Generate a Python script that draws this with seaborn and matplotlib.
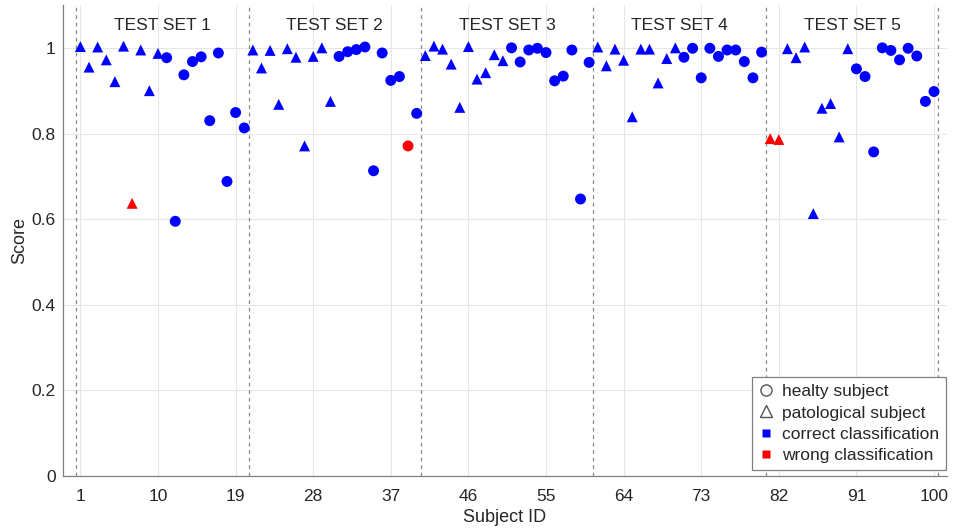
import numpy as np
import pandas as pd
import seaborn as sns
import matplotlib.pyplot as plt
from matplotlib.lines import Line2D

# subject scores
subject_ids = list(range(1, 101))
scores = [
    1.003, 0.955, 1.002, 0.972, 0.921, 1.004, 0.637, 0.995, 0.900, 0.987,
    0.977, 0.595, 0.937, 0.968, 0.979, 0.830, 0.988, 0.688, 0.849, 0.813,
    0.995, 0.953, 0.994, 0.868, 0.998, 0.978, 0.771, 0.980, 1.000, 0.875,
    0.980, 0.991, 0.996, 1.002, 0.713, 0.988, 0.924, 0.933, 0.771, 0.847,
    0.982, 1.004, 0.997, 0.962, 0.861, 1.003, 0.927, 0.942, 0.984, 0.970,
    1.000, 0.967, 0.995, 0.999, 0.989, 0.923, 0.934, 0.995, 0.647, 0.966,
    1.002, 0.958, 0.997, 0.971, 0.839, 0.997, 0.997, 0.918, 0.975, 1.000,
    0.978, 0.999, 0.930, 0.999, 0.980, 0.995, 0.995, 0.968, 0.930, 0.990,
    0.788, 0.786, 0.998, 0.977, 1.002, 0.613, 0.859, 0.870, 0.792, 0.998,
    0.951, 0.933, 0.757, 1.000, 0.994, 0.972, 0.999, 0.981, 0.875, 0.898,
]
# P = pathological, H = healthy
subject_type = list(
    "PPPPPPPPPPHHHHHHHHHH"
    "PPPPPPPPPPHHHHHHHHHH"
    "PPPPPPPPPPHHHHHHHHHH"
    "PPPPPPPPPPHHHHHHHHHH"
    "PPPPPPPPPPHHHHHHHHHH"
)
wrong_ids = [7, 39, 81, 82]
set_names = ["TEST SET 1", "TEST SET 2", "TEST SET 3", "TEST SET 4", "TEST SET 5"]
set_bounds = [0.5, 20.5, 40.5, 60.5, 80.5, 100.5]
xticks = [1, 10, 19, 28, 37, 46, 55, 64, 73, 82, 91, 100]

df = pd.DataFrame({"Subject ID": subject_ids, "Score": scores, "type": subject_type})
df["cls"] = ["wrong" if s in wrong_ids else "correct" for s in df["Subject ID"]]

sns.set_style("white")
plt.rcParams["font.family"] = ["Liberation Sans", "DejaVu Sans"]

fig = plt.figure(figsize=(9.57, 5.29), dpi=100)
ax = fig.add_axes([0.066, 0.100, 0.9235, 0.8905])

for b in set_bounds:
    ax.axvline(b, color="#888888", ls=(0, (3, 3)), lw=0.9, zorder=1)

sns.scatterplot(data=df, x="Subject ID", y="Score", hue="cls", style="type",
                palette={"correct": "#0000ff", "wrong": "#ff0000"},
                markers={"P": "^", "H": "o"}, s=62, edgecolor="none",
                legend=False, ax=ax, zorder=3)

for i, name in enumerate(set_names):
    ax.text((set_bounds[i] + set_bounds[i + 1]) / 2, 1.052, name,
            ha="center", va="center", fontsize=12.5)

ax.set_xlim(-1, 101.5)
ax.set_ylim(0, 1.1)
ax.set_xticks(xticks)
ax.set_yticks([0, 0.2, 0.4, 0.6, 0.8, 1])
ax.set_yticklabels(["0", "0.2", "0.4", "0.6", "0.8", "1"])
ax.grid(True, color="#e6e6e6", lw=0.8)
ax.set_axisbelow(True)
ax.tick_params(direction="in", length=6, color="#808080", labelsize=12.5,
               labelcolor="#262626", pad=9)
ax.tick_params(axis="y", pad=5.5)
for side in ["top", "right"]:
    ax.spines[side].set_visible(False)
for side in ["left", "bottom"]:
    ax.spines[side].set_color("#808080")
    ax.spines[side].set_linewidth(0.9)
ax.set_xlabel("Subject ID", fontsize=13, color="#262626", labelpad=4)
ax.set_ylabel("Score", fontsize=13, color="#262626", labelpad=2)

handles = [
    Line2D([], [], ls="none", marker="o", mfc="none", mec="#555555", ms=8),
    Line2D([], [], ls="none", marker="^", mfc="none", mec="#555555", ms=8),
    Line2D([], [], ls="none", marker="s", mfc="#0000ff", mec="none", ms=6),
    Line2D([], [], ls="none", marker="s", mfc="#ff0000", mec="none", ms=6),
]
labels = ["healty subject", "patological subject", "correct classification",
          "wrong classification"]
leg = ax.legend(handles, labels, loc="lower right", bbox_to_anchor=(0.9985, 0.013),
                fontsize=12.5, frameon=True, fancybox=False, handlelength=0.8,
                handletextpad=0.5, borderpad=0.4, labelspacing=0.35,
                borderaxespad=0, framealpha=1)
leg.get_frame().set_edgecolor("#808080")
leg.get_frame().set_linewidth(0.9)

fig.savefig("out.png", dpi=100)
